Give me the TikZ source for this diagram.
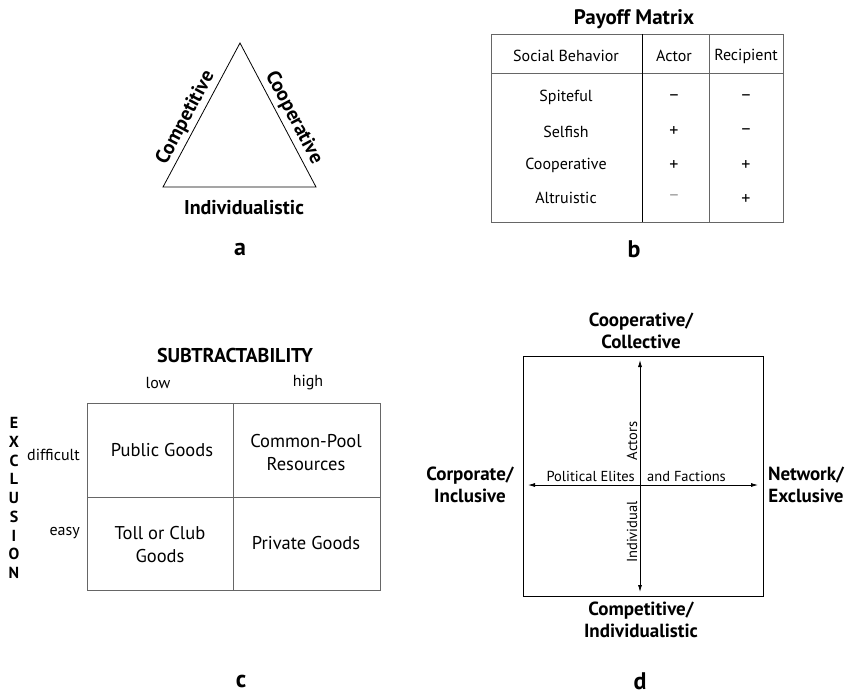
\documentclass[tikz,border=0pt]{standalone}
\usepackage{fontspec}
\setmainfont{PT Sans}
\usetikzlibrary{arrows.meta}
\begin{document}
\begin{tikzpicture}[x=1pt,y=-1pt,
  lbl/.style={font=\fontsize{16}{18}\selectfont, inner sep=1pt},
  sym/.style={font=\fontsize{18}{20}\selectfont, inner sep=1pt},
  ilbl/.style={font=\fontsize{14.5}{17}\selectfont, inner sep=1pt},
  tlbl/.style={font=\bfseries\fontsize{20}{24}\selectfont, inner sep=1pt},
  blbl/.style={font=\bfseries\fontsize{19}{22}\selectfont, align=center, inner sep=1pt},
  hlbl/.style={font=\bfseries\fontsize{20}{24}\selectfont, inner sep=1pt},
  exl/.style={font=\bfseries\fontsize{16}{18}\selectfont, inner sep=0pt},
  cell/.style={font=\fontsize{18.5}{23}\selectfont, align=center, inner sep=1pt},
  letter/.style={font=\bfseries\fontsize{24}{26}\selectfont, inner sep=0pt},
  grayline/.style={draw=black!60, line width=0.6pt},
  blackline/.style={draw=black, line width=0.9pt},
  axis/.style={draw=black, line width=0.8pt, {Latex[length=7pt,width=4pt]}-{Latex[length=7pt,width=4pt]}}
]
\useasboundingbox (0,0) rectangle (849,696);

% ---------- panel a ----------
\coordinate (tA) at (240,43);
\coordinate (tB) at (163,187);
\coordinate (tC) at (316,187);
\draw[line width=0.8pt] (tB) -- node[pos=0.44, sloped, above, tlbl, inner sep=3pt] (comp) {Competitive} (tA)
  -- node[pos=0.56, sloped, above, tlbl, inner sep=3pt] (coop) {Cooperative} (tC) -- cycle;
\node[tlbl] (indiv) at (244,208) {Individualistic};
\node[letter] (la) at (240,249) {a};

% ---------- panel b ----------
\node[hlbl, font=\bfseries\fontsize{21}{24}\selectfont] (pm) at (634,19) {Payoff Matrix};
\draw[grayline] (491,34) rectangle (783,222);
\draw[grayline] (491,73) -- (783,73);
\draw[blackline] (642,34) -- (642,222);
\draw[grayline] (709,34) -- (709,222);
\node[lbl] (hsb) at (566,56) {Social Behavior};
\node[lbl] (hac) at (674,56) {Actor};
\node[lbl] (hre) at (746,56) {Recipient};
\node[lbl] (r1) at (566,97) {Spiteful};
\node[lbl] (r2) at (566,132) {Selfish};
\node[lbl] (r3) at (566,165) {Cooperative};
\node[lbl] (r4) at (566,198) {Altruistic};
\node[sym] (a1) at (674,98) {–};
\node[sym] (a2) at (674,132) {+};
\node[sym] (a3) at (674,166) {+};
\node[sym, text=black!40] (a4) at (674,198) {–};
\node[sym] (b1) at (746,98) {–};
\node[sym] (b2) at (746,132) {–};
\node[sym] (b3) at (746,166) {+};
\node[sym] (b4) at (746,200) {+};
\node[letter] (lb) at (634,249) {b};

% ---------- panel c ----------
\node[hlbl] (sub) at (235,355) {SUBTRACTABILITY};
\node[lbl] (low) at (158,383) {low};
\node[lbl] (high) at (308,383) {high};
\draw[grayline] (87,403) rectangle (380,590);
\draw[grayline] (233,403) -- (233,590);
\draw[grayline] (87,497) -- (380,497);
\node[cell] (pg) at (162,450) {Public Goods};
\node[cell] (cp) at (306,453) {Common-Pool\\Resources};
\node[cell] (tc) at (160,545) {Toll or Club\\Goods};
\node[cell] (pv) at (306,543) {Private Goods};
\node[lbl, anchor=east] (diff) at (81,455) {difficult};
\node[lbl, anchor=east] (easy) at (81,533) {easy};
\foreach \ch [count=\i from 0] in {E,X,C,L,U,S,I,O,N}
  \node[exl] (ex\i) at (14,423+18.75*\i) {\ch};
\node[letter] (lc) at (241,681) {c};

% ---------- panel d ----------
\draw[line width=0.9pt] (523,356) rectangle (763,596);
\coordinate (hl) at (528,485);
\coordinate (hr) at (758,485);
\coordinate (vt) at (640,360);
\coordinate (vb) at (640,592);
\draw[axis] (hl) -- (hr);
\draw[axis] (vt) -- (vb);
\node[blbl] (ctop) at (641,331) {Cooperative/\\Collective};
\node[blbl] (cbot) at (641,620) {Competitive/\\Individualistic};
\node[blbl] (cleft) at (470,485) {Corporate/\\Inclusive};
\node[blbl] (cright) at (806,485) {Network/\\Exclusive};
\node[ilbl, anchor=south east] (pe) at (636,483) {Political Elites};
\node[ilbl, anchor=south west] (af) at (646,483) {and Factions};
\node[ilbl, rotate=90] (act) at (632,441) {Actors};
\node[ilbl, rotate=90] (ind) at (632,532) {Individual};
\node[letter] (ld) at (640,681) {d};
\end{tikzpicture}
\end{document}
